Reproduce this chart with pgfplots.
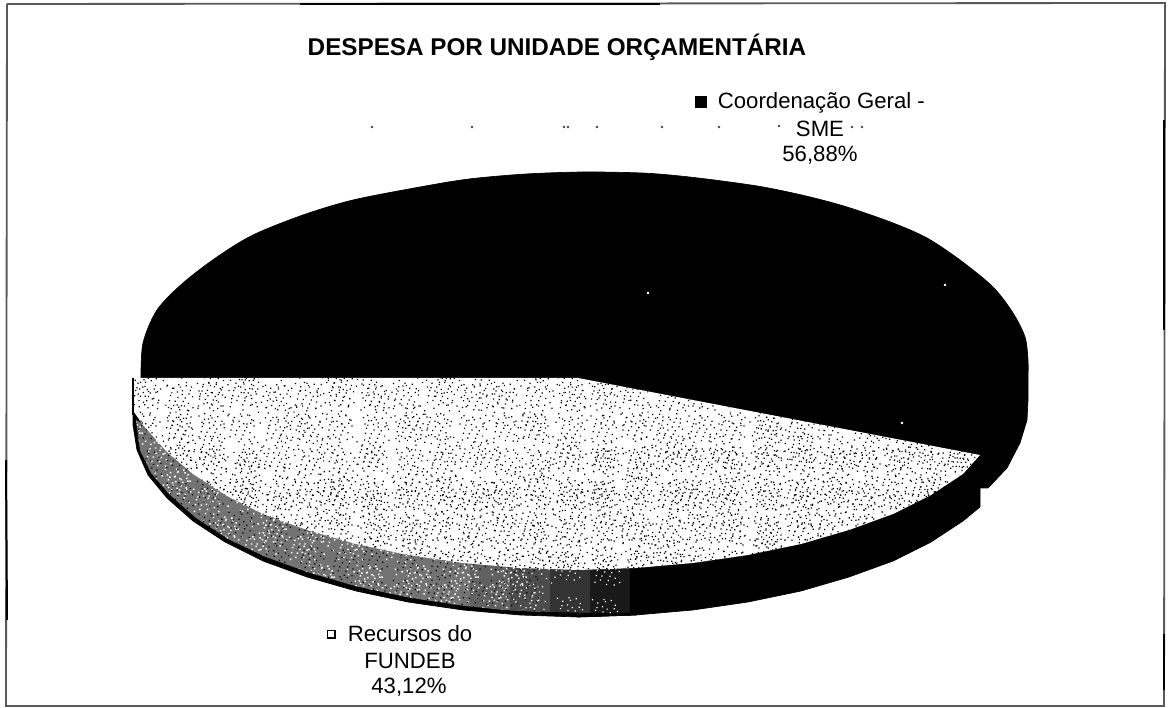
\documentclass[border=0pt]{standalone}
\usepackage{fontspec}
\setmainfont{Liberation Sans}
\usepackage{pgfplots}
\usepackage{pgfplotstable}
\usetikzlibrary{patterns}
\pgfplotsset{compat=1.18}

% speckle tiles for the scanned dither
\newcommand{\spk}[2]{\pgfpathrectangle{\pgfpoint{#1pt}{#2pt}}{\pgfpoint{\spksize}{\spksize}}}
\newcommand{\spkA}{%
  \spk{1.1}{2.3}\spk{3.7}{13.9}\spk{5.2}{6.1}\spk{7.9}{1.0}\spk{9.4}{10.2}\spk{11.8}{15.4}
  \spk{13.2}{4.7}\spk{15.6}{8.8}\spk{2.4}{9.5}\spk{6.6}{11.7}\spk{10.1}{5.9}\spk{14.3}{12.6}
  \spk{0.5}{15.8}\spk{8.3}{14.6}\spk{12.7}{0.7}\spk{4.4}{3.6}\spk{15.9}{2.2}\spk{6.9}{8.4}
  \spk{11.2}{8.0}\spk{1.8}{6.4}\spk{9.0}{3.4}\spk{13.6}{10.4}\spk{3.2}{11.2}\spk{7.4}{16.0}}
\newcommand{\spkB}{%
  \spk{2.0}{18.2}\spk{4.9}{7.7}\spk{8.8}{20.6}\spk{11.3}{3.1}\spk{14.7}{12.4}\spk{18.9}{6.5}
  \spk{21.2}{16.8}\spk{0.9}{11.0}\spk{6.4}{14.3}\spk{10.2}{9.6}\spk{13.1}{19.3}\spk{16.5}{1.6}
  \spk{19.6}{21.7}\spk{3.3}{2.6}\spk{7.2}{4.5}\spk{12.0}{15.7}\spk{16.1}{9.2}\spk{20.4}{11.9}
  \spk{1.5}{21.4}\spk{5.6}{19.9}\spk{9.5}{13.0}\spk{17.3}{17.6}\spk{22.0}{3.8}\spk{15.0}{22.1}}
\newcommand{\spkat}[3]{\begin{pgfscope}\pgftransformshift{\pgfpoint{#1pt}{#2pt}}#3\pgfusepath{fill}\end{pgfscope}}
% jittered grids of the short lists, so no stripes show
\pgfdeclarepatternformonly{speckD}{\pgfpointorigin}{\pgfpoint{71pt}{71pt}}{\pgfpoint{71pt}{71pt}}{%
  \def\spksize{0.75pt}\spkat{1}{2}{\spkA}\spkat{25}{0}{\spkB}\spkat{48}{5}{\spkA}
  \spkat{3}{26}{\spkB}\spkat{28}{24}{\spkA}\spkat{47}{27}{\spkB}
  \spkat{0}{49}{\spkA}\spkat{22}{47}{\spkB}\spkat{50}{50}{\spkA}}
\pgfdeclarepatternformonly{speckE}{\pgfpointorigin}{\pgfpoint{59pt}{59pt}}{\pgfpoint{59pt}{59pt}}{%
  \def\spksize{0.75pt}\spkat{0}{1}{\spkA}\spkat{20}{3}{\spkA}\spkat{41}{0}{\spkA}
  \spkat{2}{21}{\spkA}\spkat{22}{19}{\spkA}\spkat{40}{23}{\spkA}
  \spkat{1}{41}{\spkA}\spkat{19}{42}{\spkA}\spkat{41}{40}{\spkA}}
\pgfdeclarepatternformonly{speckF}{\pgfpointorigin}{\pgfpoint{53pt}{53pt}}{\pgfpoint{53pt}{53pt}}{%
  \def\spksize{0.8pt}\spkat{0}{0}{\spkB}\spkat{27}{3}{\spkB}\spkat{2}{28}{\spkB}\spkat{29}{26}{\spkB}}
\pgfdeclarepatternformonly{speckC}{\pgfpointorigin}{\pgfpoint{29pt}{29pt}}{\pgfpoint{29pt}{29pt}}{%
  \def\spksize{0.9pt}\spkat{0}{0}{\spkA}\spkat{5}{4}{\spkB}\spkat{12}{12}{\spkA}}

% outlines, in image pixels
\pgfplotstableread{
x y
141 378
143 343
157 310
183 283
217 257
253 235
303 215
353 200
420 187
469 179
526 174
584 172
642 173
680 176
722 181
763 187
806 196
847 207
893 223
927 238
960 260
993 287
1013 313
1025 337
1028 360
1028 378
}\domelist

\pgfplotstableread{
x y
141 378
1028 378
1028 400
1027 420
1020 443
1007 468
988 488
980 488
980 507
963 521
931 542
893 561
849 577
801 591
748 602
693 610
636 615
578 617
578 570
}\darktable

\pgfplotstableread{
x y
133 378
133 425
137 450
148 475
167 498
193 521
225 542
263 561
307 577
356 591
408 602
463 610
520 615
578 617
636 615
636 560
578 560
167 450
133 400
}\walltable

\pgfplotstableread{
x y
136 420
140 450
151 473
170 495
196 518
228 539
266 557
310 573
359 587
411 598
465 606
505 610
540 612
540 565
460 558
405 550
355 539
305 525
262 509
224 490
192 469
167 447
145 425
}\wallgrey

\pgfplotstableread{
x y
500 609
550 613
600 614
628 614
628 560
500 560
}\wallfade

\pgfplotstableread{
x y
133 378
578 378
980 455
963 474
931 495
893 514
849 530
801 544
748 555
693 563
636 568
578 570
520 568
463 563
408 555
356 544
307 530
263 514
225 495
193 474
167 452
143 425
134 412
}\lighttable

\pgfplotstableread{
x y
150 440
300 470
500 470
700 430
800 425
975 458
963 474
931 495
893 514
849 530
801 544
748 555
693 563
636 568
578 570
520 568
463 563
408 555
356 544
307 530
263 514
225 495
193 474
167 452
}\lightband

\begin{document}
\begin{tikzpicture}
\path[use as bounding box] (0,0) rectangle (701.4pt,424.8pt);
\begin{axis}[
    at={(0,0)},anchor=south west,
    scale only axis,
    width=701.4pt,height=424.8pt,
    xmin=0,xmax=1169,
    ymin=0,ymax=708,
    y dir=reverse,
    hide axis,
    clip=false,
]
% frame
\addplot[black!65,line width=1.1pt,no markers] coordinates {(7,4)(1165,3)(1164,706)(6,706)(7,4)};
\addplot[black,line width=1.2pt,no markers] coordinates {(300,4)(660,4)};
\addplot[black,line width=1.2pt,no markers] coordinates {(7,620)(6,460)};
\addplot[black,line width=1.2pt,no markers] coordinates {(1164,120)(1164,330)};
\addplot[black,line width=1.2pt,no markers] coordinates {(1164,634)(1164,690)};

% pie
\addplot[smooth,tension=0.5,fill=black,draw=black,no markers] table {\domelist};
\addplot[fill=black,draw=black,no markers] table {\darktable};
\addplot[fill=black,draw=black,no markers] table {\walltable};
\addplot[fill=black!55,draw=none,no markers] table {\wallgrey};
\addplot[fill=black!62,draw=none,no markers] coordinates {(470,606)(510,610)(510,555)(470,555)};
\addplot[fill=black!70,draw=none,no markers] coordinates {(510,610)(550,612)(550,555)(510,555)};
\addplot[fill=black!80,draw=none,no markers] coordinates {(550,612)(590,613)(590,555)(550,555)};
\addplot[fill=black!90,draw=none,no markers] coordinates {(590,613)(630,613)(630,555)(590,555)};
\addplot[pattern=speckC,pattern color=white,draw=none,no markers] table {\wallgrey};
\addplot[pattern=speckE,pattern color=black,draw=none,no markers] table {\wallgrey};
\addplot[pattern=speckD,pattern color=white,draw=none,no markers] table {\wallfade};
\addplot[fill=white,draw=none,no markers] table {\lighttable};
\addplot[pattern=speckD,pattern color=black,draw=none,no markers] table {\lighttable};
\addplot[pattern=speckE,pattern color=black,draw=none,no markers] table {\lighttable};
\addplot[pattern=speckF,pattern color=black,draw=none,no markers] table {\lightband};
\addplot[black,line width=0.8pt,no markers] coordinates {(133,378)(133,415)};

% legend keys and stray scan dots
\addplot[only marks,mark=square*,mark size=3.2pt,black] coordinates {(701,102)};
\addplot[only marks,mark=square*,mark size=2.2pt,fill=white,draw=black,line width=1pt] coordinates {(331,634)};
\addplot[only marks,mark=*,mark size=0.5pt,black!70] coordinates {
(372,127)(472,127)(564,127)(568,127)(597,127)(662,127)(719,127)(779,126)(852,127)(862,127)};
\addplot[only marks,mark=*,mark size=0.5pt,white] coordinates {(648,293)(945,285)(902,423)};

\node[font=\fontsize{14.55}{18}\selectfont\bfseries] at (axis cs:557,47) {DESPESA POR UNIDADE ORÇAMENTÁRIA};
\node[font=\fontsize{13.3}{16}\selectfont,anchor=west] at (axis cs:712,103) {Coordenação Geral -};
\node[font=\fontsize{13.3}{16}\selectfont] at (axis cs:820,129) {SME};
\node[font=\fontsize{13.3}{16}\selectfont] at (axis cs:820,155) {56,88\%};
\node[font=\fontsize{13.3}{16}\selectfont,anchor=west] at (axis cs:342,634) {Recursos do};
\node[font=\fontsize{13.3}{16}\selectfont] at (axis cs:410,661) {FUNDEB};
\node[font=\fontsize{13.3}{16}\selectfont] at (axis cs:409,687) {43,12\%};
\end{axis}
\end{tikzpicture}
\end{document}
